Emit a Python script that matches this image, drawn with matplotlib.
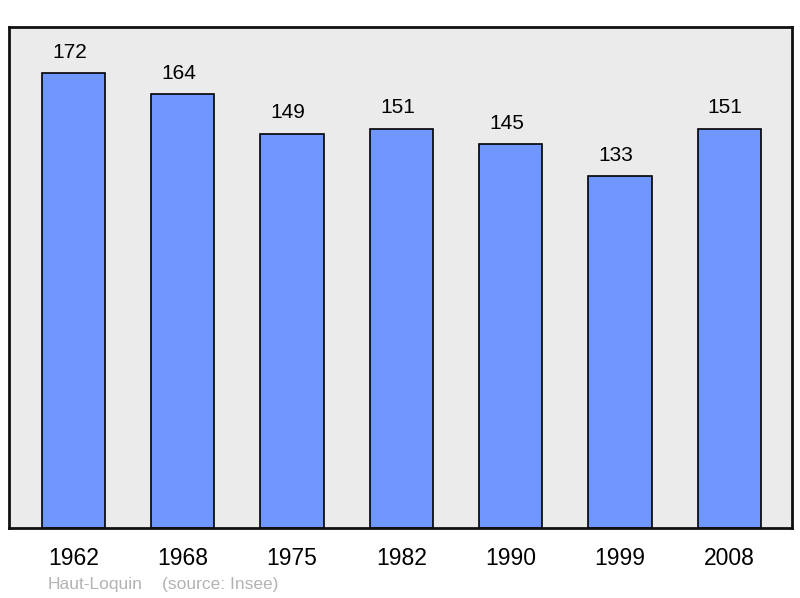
import matplotlib
matplotlib.use("Agg")
import matplotlib.pyplot as plt

years = ["1962", "1968", "1975", "1982", "1990", "1999", "2008"]
population = [172, 164, 149, 151, 145, 133, 151]
commune = "Haut-Loquin"
source = "(source: Insee)"

plt.rcParams['font.family'] = ['Liberation Sans', 'DejaVu Sans']

fig = plt.figure(figsize=(8, 5.98), dpi=100)
ax = fig.add_axes([9/800, 70/598, 783/800, 501/598])
ax.set_facecolor('#ebebeb')
x = list(range(len(years)))
bars = ax.bar(x, population, width=0.58, color='#7096ff', edgecolor='black', linewidth=1.2, zorder=2)
for xi, v in zip(x, population):
    ax.annotate(str(v), (xi, v), xytext=(-4, 21), textcoords='offset pixels',
                ha='center', va='center', fontsize=15)
ax.set_xlim(-0.59, 6.574)
ax.set_ylim(0, 189.4)
ax.set_yticks([])
ax.set_xticks(x)
ax.set_xticklabels(years, fontsize=16.5)
ax.tick_params(axis='x', length=0, pad=14)
for s in ax.spines.values():
    s.set_linewidth(2)
    s.set_color('#111111')
fig.text(48/800, 1 - 585/598, commune, fontsize=12.5, color='#b3b3b3', va='center', ha='left')
fig.text(162/800, 1 - 585/598, source, fontsize=12.5, color='#b3b3b3', va='center', ha='left')
fig.savefig('out.png', dpi=100)
